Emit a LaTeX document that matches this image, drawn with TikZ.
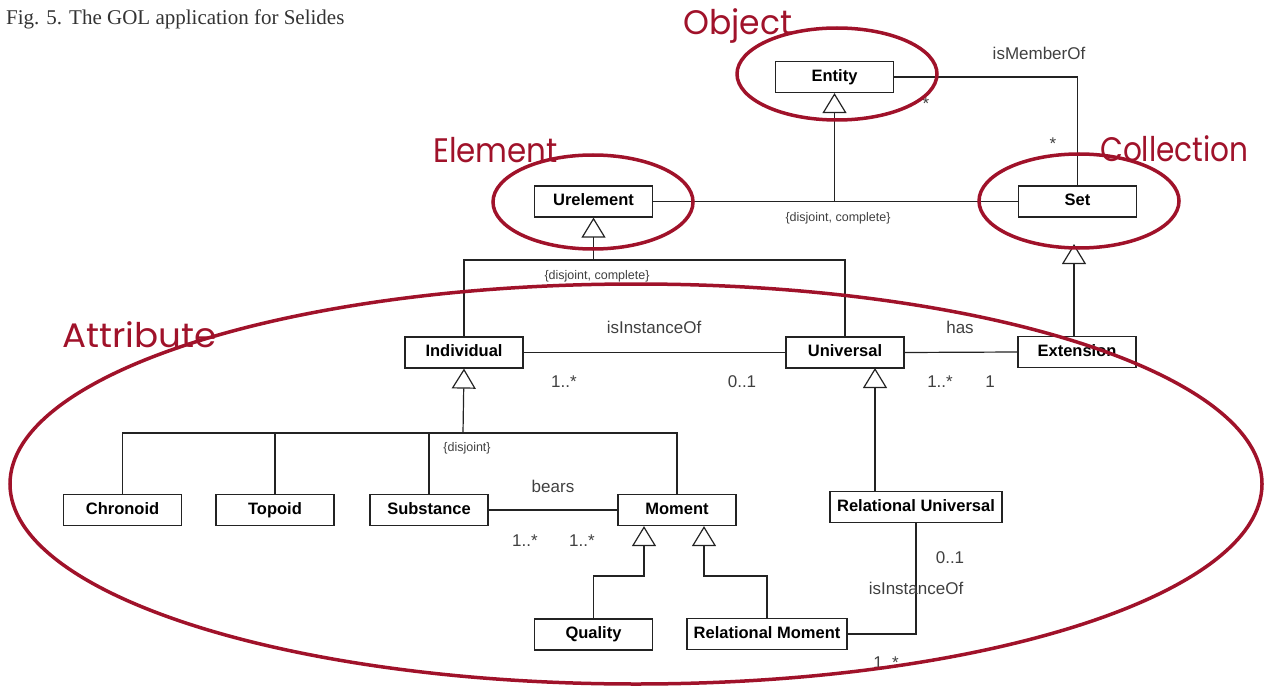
\documentclass[tikz,border=0pt]{standalone}
\usepackage{fontspec}
\setmainfont{Liberation Sans}
\newfontfamily\capfont{Liberation Serif}
\newfontfamily\handfont{Poppins}
\usetikzlibrary{arrows.meta}
\definecolor{inkred}{RGB}{160,18,42}
\definecolor{umlgray}{RGB}{35,35,35}

\begin{document}
\begin{tikzpicture}[x=1pt, y=-1pt,
  cls/.style={draw=umlgray, line width=1.2pt, minimum width=118pt, minimum height=31pt, inner sep=2pt, text height=12pt, text depth=3.5pt, font=\fontsize{16.5}{18}\selectfont\bfseries},
  lbl/.style={text=black!75, font=\fontsize{17}{19}\selectfont, inner sep=0pt},
  note/.style={text=black!75, font=\fontsize{12.5}{14}\selectfont, inner sep=0pt},
  link/.style={draw=umlgray, line width=1.2pt},
  gen/.style={link, -{Triangle[open, length=20pt, width=24pt]}},
  ring/.style={draw=inkred, line width=3.5pt},
  hand/.style={text=inkred, font=\handfont\fontsize{34}{36}\selectfont, inner sep=0pt, anchor=base west}]
\useasboundingbox (0,0) rectangle (1268,687);

\node[anchor=west, text=black!80, font=\capfont\fontsize{21}{23}\selectfont, inner sep=0pt] (caption) at (6,19) {Fig. 5. The GOL application for Selides};

% classes
\node[cls] (entity) at (834.5,77) {Entity};
\node[cls] (urelement) at (593.5,201.5) {Urelement};
\node[cls] (set) at (1077.5,201.5) {Set};
\node[cls] (individual) at (464,352.5) {Individual};
\node[cls] (universal) at (845,352.5) {Universal};
\node[cls] (extension) at (1077,352) {Extension};
\node[cls] (chronoid) at (122.5,510) {Chronoid};
\node[cls] (topoid) at (275,510) {Topoid};
\node[cls] (substance) at (429,510) {Substance};
\node[cls] (moment) at (677,510) {Moment};
\node[cls, minimum width=172pt] (reluniversal) at (916,507) {Relational Universal};
\node[cls] (quality) at (593.5,634.5) {Quality};
\node[cls, minimum width=160pt] (relmoment) at (767,634) {Relational Moment};

% bends and free ends
\coordinate (ubus) at (593.5,260);
\coordinate (ibus) at (463,433);
\coordinate (settip) at (1074,244);
\coordinate (utip) at (875,368);
\coordinate (qbend) at (644,576);
\coordinate (rbend) at (704,576);

% generalizations
\draw[link] (urelement.east) -- (set.west);
\draw[gen] (entity |- urelement) -- (entity.south);
\draw[link] (individual.north) |- (ubus) -| (universal.north);
\draw[gen] (ubus) -- (urelement.south);
\draw[gen] ([xshift=-3pt]extension.north) -- (settip);
\draw[link] (chronoid.north) |- (ibus) -| (moment.north);
\draw[link] (topoid.north) -- (topoid.north |- ibus);
\draw[link] (substance.north) -- (substance.north |- ibus);
\draw[gen] (ibus) -- (individual.south);
\draw[gen] (quality.north) |- (qbend) -- (qbend |- moment.south);
\draw[gen] (relmoment.north) |- (rbend) -- (rbend |- moment.south);
\draw[gen] (reluniversal.north -| utip) -- (utip);

% associations
\draw[link] (entity.east) -| (set.north);
\draw[link] (individual.east) -- (universal.west);
\draw[link] (universal.east) -- (extension.west);
\draw[link] (substance.east) -- (moment.west);
\draw[link] (reluniversal.south) |- (relmoment.east);

% labels
\node[lbl] (lmember) at (1039,53) {isMemberOf};
\node[lbl] (m1) at (926,104) {*};
\node[lbl] (m2) at (1053,144) {*};
\node[note] (dc1) at (838,218) {\{disjoint, complete\}};
\node[note] (dc2) at (597,276) {\{disjoint, complete\}};
\node[lbl] (linst) at (654,327) {isInstanceOf};
\node[lbl] (m3) at (564,382) {1..*};
\node[lbl] (m4) at (742,382) {0..1};
\node[lbl] (lhas) at (960,327) {has};
\node[lbl] (m5) at (940,382) {1..*};
\node[lbl] (m6) at (990,382) {1};
\node[note] (dj) at (467,448) {\{disjoint\}};
\node[lbl] (lbears) at (553,486) {bears};
\node[lbl] (m7) at (525,541) {1..*};
\node[lbl] (m8) at (582,541) {1..*};
\node[lbl] (m9) at (950,558) {0..1};
\node[lbl] (linst2) at (916,588) {isInstanceOf};
\node[lbl] (m10) at (886,663) {1..*};

% hand marks
\draw[ring] (837,74) ellipse [x radius=100pt, y radius=46pt];
\draw[ring] (593,202) ellipse [x radius=100pt, y radius=47pt];
\draw[ring] (1079,201) ellipse [x radius=100pt, y radius=47pt];
\draw[ring] (636,484) ellipse [x radius=626pt, y radius=200pt];
\node[hand] (object) at (683,35) {\scalebox{0.97}[1]{Object}};
\node[hand] (element) at (433,163) {\scalebox{0.91}[1]{Element}};
\node[hand] (collection) at (1100,162) {\scalebox{0.87}[1]{Collection}};
\node[hand] (attribute) at (62,347) {\scalebox{1.05}[1]{Attribute}};
\end{tikzpicture}
\end{document}
